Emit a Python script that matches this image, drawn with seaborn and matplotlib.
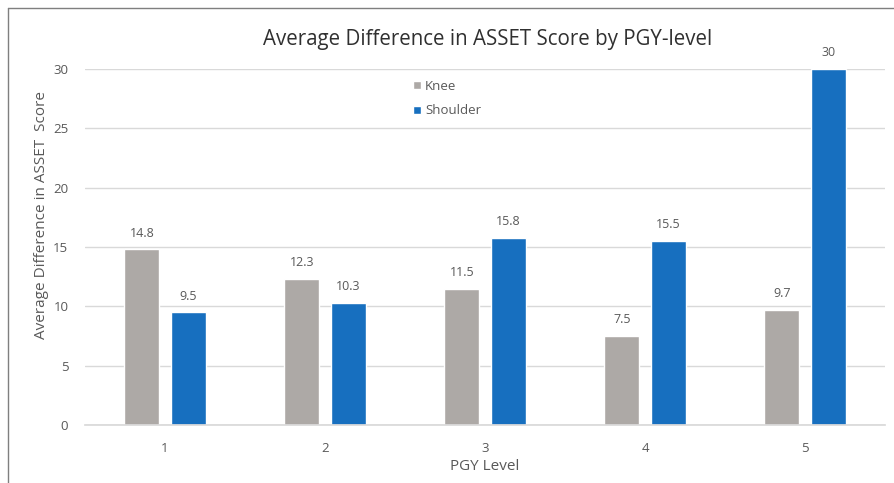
import matplotlib
matplotlib.use("Agg")
import matplotlib.pyplot as plt
import seaborn as sns
import pandas as pd

pgy_levels = ["1", "2", "3", "4", "5"]
knee = [14.8, 12.3, 11.5, 7.5, 9.7]
shoulder = [9.5, 10.3, 15.8, 15.5, 30]
knee_labels = ["14.8", "12.3", "11.5", "7.5", "9.7"]
shoulder_labels = ["9.5", "10.3", "15.8", "15.5", "30"]
y_ticks = [0, 5, 10, 15, 20, 25, 30]

df = pd.DataFrame({
    "PGY": pgy_levels * 2,
    "Score": knee + shoulder,
    "Joint": ["Knee"] * len(knee) + ["Shoulder"] * len(shoulder),
})

sns.set_theme(style="white")
plt.rcParams["font.family"] = ["Open Sans", "DejaVu Sans"]

text_col = "#595959"
palette = {"Knee": "#ADA9A6", "Shoulder": "#176FBF"}

fig = plt.figure(figsize=(8.95, 4.83), dpi=100)
ax_l, ax_r, ax_t, ax_b = 85, 885, 69, 425
ax = fig.add_axes([ax_l / 895, 1 - ax_b / 483, (ax_r - ax_l) / 895, (ax_b - ax_t) / 483])

sns.barplot(data=df, x="PGY", y="Score", hue="Joint", order=pgy_levels,
            hue_order=["Knee", "Shoulder"], palette=palette, width=0.58,
            gap=0.24, saturation=1, ax=ax, legend=True)

for cont, labels in zip(ax.containers, [knee_labels, shoulder_labels]):
    ax.bar_label(cont, labels=labels, padding=7, fontsize=9, color=text_col)

ax.set_ylim(0, 30)
ax.set_yticks(y_ticks)
ax.set_xlim(-0.5, 4.5)
ax.yaxis.grid(True, color="#D9D9D9", linewidth=1)
ax.set_axisbelow(True)
for s in ["top", "right", "left"]:
    ax.spines[s].set_visible(False)
ax.spines["bottom"].set_color("#D9D9D9")
ax.tick_params(axis="both", length=0, labelsize=9.5, colors=text_col)
ax.tick_params(axis="x", pad=12)
ax.tick_params(axis="y", pad=12)

ax.set_xlabel("PGY Level", fontsize=11, color=text_col)
ax.xaxis.set_label_coords(0.5, -(467 - ax_b) / (ax_b - ax_t), transform=ax.transAxes)
ax.set_ylabel("Average Difference in ASSET  Score", fontsize=11, color=text_col)
ax.yaxis.set_label_coords(-(ax_l - 42) / (ax_r - ax_l), (ax_b - 215) / (ax_b - ax_t))
ax.yaxis.label.set_va("center")
ax.xaxis.label.set_va("center")

leg = ax.legend(loc="upper left", bbox_to_anchor=((408 - ax_l) / (ax_r - ax_l), 0.985),
                frameon=False, fontsize=9.5, handlelength=0.6, handleheight=0.6,
                handletextpad=0.3, labelspacing=0.9, borderaxespad=0)
for t in leg.get_texts():
    t.set_color(text_col)

fig.text(488 / 895, 1 - 40 / 483, "Average Difference in ASSET Score by PGY-level",
         ha="center", va="center", fontsize=14.8, color="#303030")

# outer frame lines along the top and left edges
fig.add_artist(plt.Line2D([8 / 895, 1], [1 - 8 / 483, 1 - 8 / 483],
                          transform=fig.transFigure, color="#7F7F7F", lw=1))
fig.add_artist(plt.Line2D([8 / 895, 8 / 895], [0, 1 - 8 / 483],
                          transform=fig.transFigure, color="#7F7F7F", lw=1))

fig.savefig("out.png", dpi=100)
